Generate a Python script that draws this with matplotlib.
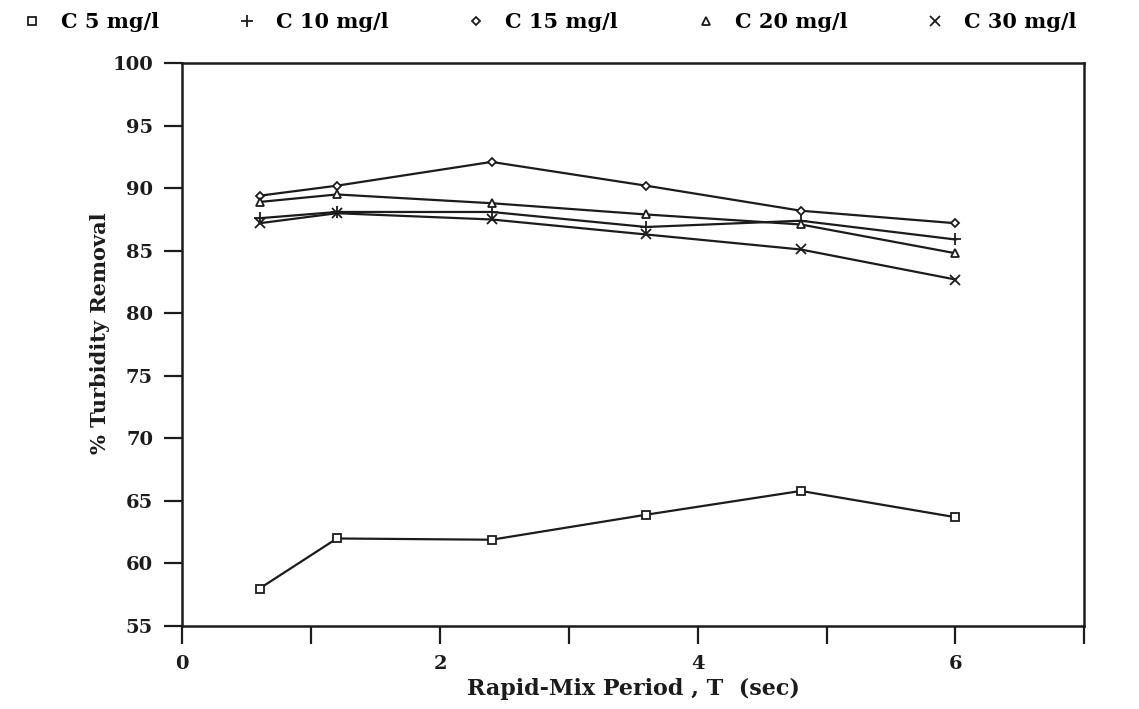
import matplotlib
matplotlib.use("Agg")
from matplotlib import pyplot as plt
from matplotlib.lines import Line2D

# rapid-mix period (sec)
t = [0.6, 1.2, 2.4, 3.6, 4.8, 6.0]

# % turbidity removal for each coagulant dose
c5 = [58.0, 62.0, 61.9, 63.9, 65.8, 63.7]
c10 = [87.6, 88.1, 88.1, 86.9, 87.4, 85.9]
c15 = [89.4, 90.2, 92.1, 90.2, 88.2, 87.2]
c20 = [88.9, 89.5, 88.8, 87.9, 87.1, 84.8]
c30 = [87.2, 88.0, 87.5, 86.3, 85.1, 82.7]

labels = ["C 5 mg/l", "C 10 mg/l", "C 15 mg/l", "C 20 mg/l", "C 30 mg/l"]
markers = ["s", "+", "D", "^", "x"]
sizes = [6, 8, 4.5, 6, 7]

ink = "#1c1c1c"
plt.rcParams["font.family"] = ["DejaVu Serif"]
plt.rcParams["font.weight"] = "bold"

fig = plt.figure(figsize=(11.39, 7.09), dpi=100)
ax = fig.add_axes([0.160, 0.117, 0.792, 0.794])

handles = []
for ys, lab, m, s in zip([c5, c10, c15, c20, c30], labels, markers, sizes):
    ax.plot(t, ys, color=ink, lw=1.6, marker=m, ms=s, mfc="white",
            mec=ink, mew=1.3)
    handles.append(Line2D([], [], ls="none", marker=m, ms=s, mfc="white",
                          mec=ink, mew=1.3, color=ink))

ax.set_xlim(0, 7)
ax.set_ylim(55, 100)
ax.set_xticks(range(0, 8))
ax.set_xticklabels(["0", "", "2", "", "4", "", "6", ""])
ax.set_yticks(range(55, 101, 5))
ax.tick_params(direction="out", length=13, width=1.6, colors=ink,
               labelsize=14, pad=8)
for sp in ax.spines.values():
    sp.set_linewidth(1.8)
    sp.set_color(ink)

ax.set_xlabel("Rapid-Mix Period , T  (sec)", fontsize=16, fontweight="bold",
              color=ink)
ax.xaxis.set_label_coords(0.5, -0.093)
ax.set_ylabel("% Turbidity Removal", fontsize=15, fontweight="bold",
              color=ink)
ax.yaxis.set_label_coords(-0.08, 0.52)

fig.legend(handles, labels, loc="upper left", bbox_to_anchor=(0.008, 1.0),
           ncol=5, frameon=False, fontsize=15, handlelength=1.0,
           handletextpad=0.9, columnspacing=3.7, borderaxespad=0.2)

fig.savefig("out.png", dpi=100)
